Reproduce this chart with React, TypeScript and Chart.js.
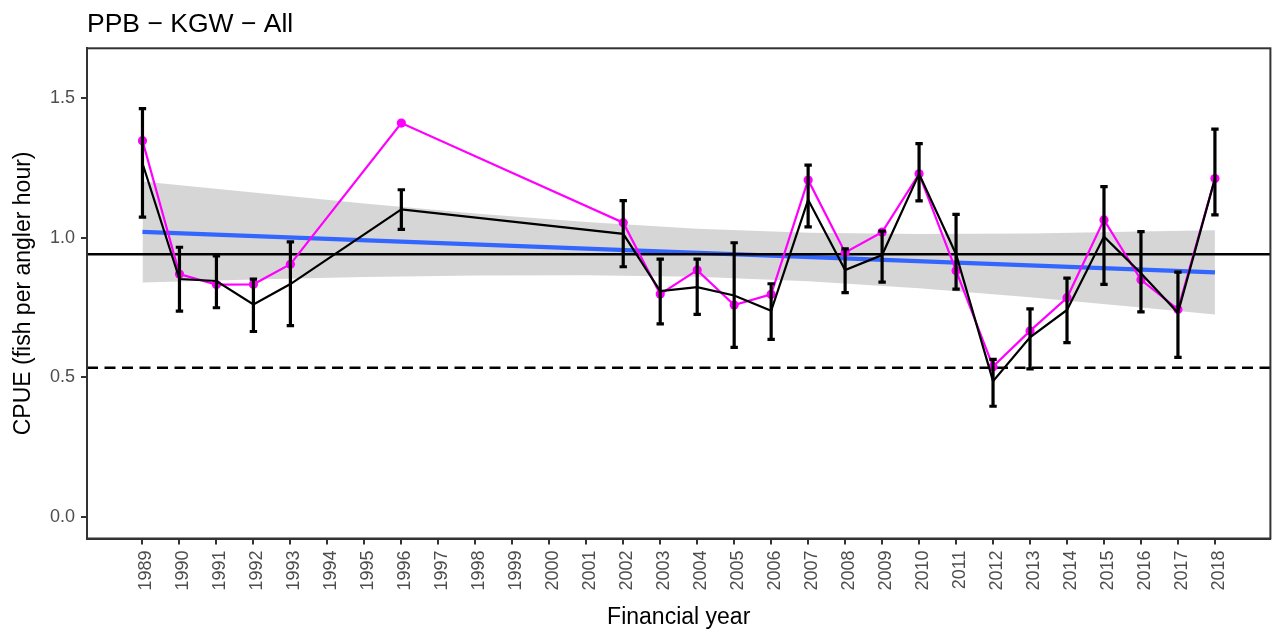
import React, { useEffect, useRef } from "react";
import { Chart, registerables } from "chart.js";

Chart.register(...registerables);

// ---- Data ----
const TITLE = "PPB \u2212 KGW \u2212 All";
const X_TITLE = "Financial year";
const Y_TITLE = "CPUE (fish per angler hour)";

const YEARS = [1989, 1990, 1991, 1992, 1993, 1996, 2002, 2003, 2004, 2005, 2006, 2007, 2008, 2009, 2010, 2011, 2012, 2013, 2014, 2015, 2016, 2017, 2018];
const NOMINAL_CPUE = [1.348, 0.870, 0.832, 0.833, 0.905, 1.411, 1.054, 0.798, 0.884, 0.759, 0.797, 1.207, 0.947, 1.020, 1.229, 0.882, 0.538, 0.666, 0.785, 1.064, 0.849, 0.743, 1.212];
const STANDARD_CPUE = [1.267, 0.852, 0.845, 0.761, 0.834, 1.102, 1.014, 0.809, 0.823, 0.793, 0.738, 1.136, 0.884, 0.938, 1.229, 0.941, 0.486, 0.643, 0.741, 1.004, 0.873, 0.731, 1.212];
const CI_LOW = [1.074, 0.737, 0.749, 0.664, 0.685, 1.030, 0.896, 0.691, 0.725, 0.607, 0.636, 1.039, 0.803, 0.841, 1.132, 0.816, 0.396, 0.530, 0.624, 0.833, 0.734, 0.571, 1.082];
const CI_HIGH = [1.463, 0.966, 0.935, 0.852, 0.985, 1.172, 1.133, 0.923, 0.923, 0.982, 0.835, 1.260, 0.960, 1.024, 1.337, 1.084, 0.564, 0.745, 0.855, 1.183, 1.022, 0.877, 1.389];

const TREND_YEARS = [1989, 2018];
const TREND_VALUES = [1.021, 0.876];

const RIBBON_YEARS = [1989, 1992, 1995, 1998, 2001, 2004, 2007, 2010, 2013, 2016, 2018];
const RIBBON_UPPER = [1.202, 1.162, 1.123, 1.087, 1.056, 1.032, 1.018, 1.013, 1.015, 1.022, 1.027];
const RIBBON_LOWER = [0.840, 0.850, 0.859, 0.865, 0.866, 0.860, 0.844, 0.819, 0.787, 0.750, 0.725];

const MEAN_LINE = 0.941;
const REF_LINE = 0.534;

const X_TICKS = [1989, 1990, 1991, 1992, 1993, 1994, 1995, 1996, 1997, 1998, 1999, 2000, 2001, 2002, 2003, 2004, 2005, 2006, 2007, 2008, 2009, 2010, 2011, 2012, 2013, 2014, 2015, 2016, 2017, 2018];
const Y_TICKS = [0, 0.5, 1.0, 1.5];

// ---- Styles ----
const FONT = "'Liberation Sans', Arial, sans-serif";
const AXIS_COLOR = "#333333";
const TICK_TEXT = "#4D4D4D";

const MAGENTA_INDEX = 3;

export default function App() {
  const ref = useRef<HTMLCanvasElement | null>(null);

  useEffect(() => {
    if (!ref.current) return;

    const toXY = (xs: number[], ys: number[]) => xs.map((x, i) => ({ x, y: ys[i] }));

    const decorations = {
      id: "decorations",
      beforeDatasetDraw(chart: any, args: any) {
        if (args.index !== MAGENTA_INDEX) return;
        const { ctx, chartArea } = chart;
        const y = chart.scales.y;
        ctx.save();
        ctx.beginPath();
        ctx.rect(chartArea.left, chartArea.top, chartArea.right - chartArea.left, chartArea.bottom - chartArea.top);
        ctx.clip();
        ctx.strokeStyle = "#000000";
        ctx.lineWidth = 2.4;
        ctx.setLineDash([]);
        ctx.beginPath();
        ctx.moveTo(chartArea.left, y.getPixelForValue(MEAN_LINE));
        ctx.lineTo(chartArea.right, y.getPixelForValue(MEAN_LINE));
        ctx.stroke();
        ctx.setLineDash([11, 6.5]);
        ctx.beginPath();
        ctx.moveTo(chartArea.left, y.getPixelForValue(REF_LINE));
        ctx.lineTo(chartArea.right, y.getPixelForValue(REF_LINE));
        ctx.stroke();
        ctx.restore();
      },
      afterDatasetsDraw(chart: any) {
        const { ctx } = chart;
        const xs = chart.scales.x;
        const ys = chart.scales.y;
        ctx.save();
        ctx.strokeStyle = "#000000";
        ctx.lineWidth = 3.2;
        ctx.lineCap = "butt";
        YEARS.forEach((yr, i) => {
          const px = xs.getPixelForValue(yr);
          const x0 = xs.getPixelForValue(yr - 0.1);
          const x1 = xs.getPixelForValue(yr + 0.1);
          const yl = ys.getPixelForValue(CI_LOW[i]);
          const yh = ys.getPixelForValue(CI_HIGH[i]);
          ctx.beginPath();
          ctx.moveTo(px, yl);
          ctx.lineTo(px, yh);
          ctx.moveTo(x0, yl);
          ctx.lineTo(x1, yl);
          ctx.moveTo(x0, yh);
          ctx.lineTo(x1, yh);
          ctx.stroke();
        });
        ctx.restore();
      },
      afterDraw(chart: any) {
        const { ctx, chartArea } = chart;
        ctx.save();
        ctx.strokeStyle = AXIS_COLOR;
        ctx.lineWidth = 2;
        ctx.strokeRect(chartArea.left, chartArea.top, chartArea.right - chartArea.left, chartArea.bottom - chartArea.top);
        ctx.fillStyle = "#000000";
        ctx.font = `26.5px ${FONT}`;
        ctx.textAlign = "left";
        ctx.textBaseline = "alphabetic";
        ctx.fillText(TITLE, 87, 32);
        ctx.font = `23px ${FONT}`;
        ctx.textAlign = "center";
        ctx.fillText(X_TITLE, (chartArea.left + chartArea.right) / 2, 624);
        ctx.translate(30, (chartArea.top + chartArea.bottom) / 2);
        ctx.rotate(-Math.PI / 2);
        ctx.fillText(Y_TITLE, 0, 0);
        ctx.restore();
      },
    };

    const chart = new Chart(ref.current, {
      type: "line",
      data: {
        datasets: [
          {
            label: "ribbonLower",
            data: toXY(RIBBON_YEARS, RIBBON_LOWER),
            borderWidth: 0,
            borderColor: "rgba(0,0,0,0)",
            pointRadius: 0,
            fill: false,
            order: 10,
          },
          {
            label: "ribbonUpper",
            data: toXY(RIBBON_YEARS, RIBBON_UPPER),
            borderWidth: 0,
            borderColor: "rgba(0,0,0,0)",
            backgroundColor: "rgba(153,153,153,0.4)",
            pointRadius: 0,
            fill: "-1",
            order: 9,
          },
          {
            label: "trend",
            data: toXY(TREND_YEARS, TREND_VALUES),
            borderColor: "#3366FF",
            borderWidth: 4.4,
            pointRadius: 0,
            fill: false,
            order: 8,
          },
          {
            label: "nominal",
            data: toXY(YEARS, NOMINAL_CPUE),
            borderColor: "#FF00FF",
            backgroundColor: "#FF00FF",
            borderWidth: 2.2,
            pointRadius: 4.6,
            pointBorderWidth: 0,
            pointBackgroundColor: "#FF00FF",
            fill: false,
            order: 5,
          },
          {
            label: "standardised",
            data: toXY(YEARS, STANDARD_CPUE),
            borderColor: "#000000",
            borderWidth: 2.2,
            pointRadius: 0,
            fill: false,
            order: 3,
          },
        ],
      },
      options: {
        animation: false,
        responsive: false,
        devicePixelRatio: 1,
        layout: { padding: { top: 48.3, right: 2.5, left: 0, bottom: 0 } },
        plugins: {
          legend: { display: false },
          tooltip: { enabled: false },
          title: { display: false },
        },
        elements: { line: { tension: 0 } },
        scales: {
          x: {
            type: "linear",
            min: 1987.5,
            max: 2019.5,
            afterBuildTicks: (s: any) => {
              s.ticks = X_TICKS.map((v) => ({ value: v }));
            },
            afterFit: (s: any) => {
              s.height = 93.5;
            },
            ticks: {
              autoSkip: false,
              minRotation: 90,
              maxRotation: 90,
              labelOffset: 4,
              color: TICK_TEXT,
              padding: 6,
              font: { family: FONT, size: 18 },
              callback: (v: any) => String(v),
            },
            grid: {
              display: true,
              drawOnChartArea: false,
              drawTicks: true,
              tickLength: 6,
              color: AXIS_COLOR,
              lineWidth: 2,
            },
            border: { display: true, color: AXIS_COLOR, width: 2 },
          },
          y: {
            type: "linear",
            min: -0.078,
            max: 1.679,
            afterBuildTicks: (s: any) => {
              s.ticks = Y_TICKS.map((v) => ({ value: v }));
            },
            afterFit: (s: any) => {
              s.width = 87;
            },
            ticks: {
              color: TICK_TEXT,
              padding: 6,
              font: { family: FONT, size: 18 },
              callback: (v: any) => Number(v).toFixed(1),
            },
            grid: {
              display: true,
              drawOnChartArea: false,
              drawTicks: true,
              tickLength: 6,
              color: AXIS_COLOR,
              lineWidth: 2,
            },
            border: { display: true, color: AXIS_COLOR, width: 2 },
          },
        },
      },
      plugins: [decorations],
    } as any);

    return () => chart.destroy();
  }, []);

  return (
    <div style={{ position: "absolute", left: 0, top: 0, width: 1275, height: 632, background: "#FFFFFF" }}>
      <canvas ref={ref} width={1275} height={632} style={{ display: "block" }} />
    </div>
  );
}
